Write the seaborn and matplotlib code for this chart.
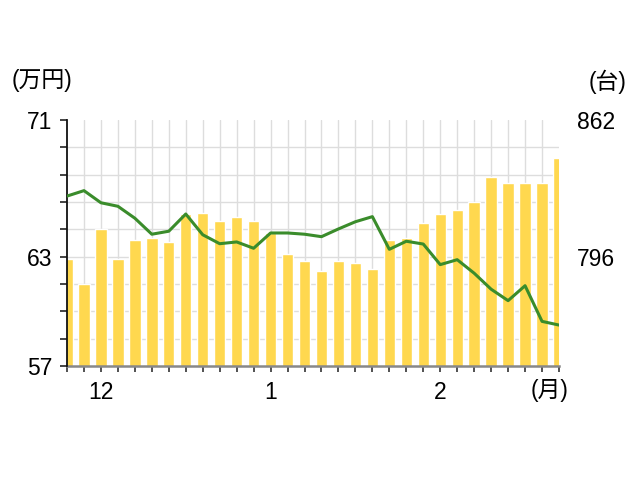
import numpy as np
import pandas as pd
import seaborn as sns
import matplotlib.pyplot as plt

# Data (30 periods, Dec - Feb)
units = [794.8, 782.7, 809.1, 794.8, 804.1, 805.1, 803.1, 816.4, 817.2, 813.3,
         815.2, 813.3, 807.2, 797.0, 793.8, 789.0, 793.8, 793.0, 789.9, 804.1,
         805.1, 812.2, 816.4, 818.5, 822.3, 834.4, 831.5, 831.5, 831.5, 843.6]
price = [66.67, 66.98, 66.29, 66.09, 65.41, 64.50, 64.67, 65.65, 64.47, 63.96,
         64.06, 63.70, 64.57, 64.57, 64.50, 64.36, 64.80, 65.21, 65.50, 63.64,
         64.10, 63.94, 62.77, 63.05, 62.28, 61.37, 60.72, 61.57, 59.54, 59.33]
month_ticks = [2, 12, 22]
month_labels = ["12", "1", "2"]
left_labels = {0: "57", 4: "63", 9: "71"}
right_labels = {4: "796", 9: "862"}

df = pd.DataFrame({"idx": np.arange(len(units)), "units": units, "price": price})

sns.set_style("white")
plt.rcParams["font.family"] = ["Liberation Sans", "Noto Sans CJK JP", "DejaVu Sans"]
plt.rcParams["text.color"] = "black"
plt.rcParams["xtick.color"] = "black"
plt.rcParams["ytick.color"] = "black"

bar_color = "#FFD84F"
line_color = "#3A8C2B"
grid_color = "#DDDDDD"

fig = plt.figure(figsize=(6.4, 4.8), dpi=100)
ax_bar = fig.add_axes([67 / 640, 114 / 480, 492 / 640, 246 / 480])
ax_line = ax_bar.twinx()

# bars on the (right) unit axis
sns.barplot(data=df, x="idx", y="units", color=bar_color, saturation=1,
            width=0.67, native_scale=True, ax=ax_bar, zorder=2)
# line on the (left) price axis
sns.lineplot(data=df, x="idx", y="price", color=line_color, linewidth=2.2,
             ax=ax_line, zorder=3)

n = len(units)
ax_bar.set_xlim(0, n - 1)
ax_bar.set_ylim(743, 862)
ax_line.set_ylim(57, 71)

# gridlines on the bar axis, behind bars
ax_bar.set_xticks(np.arange(n))
ax_bar.set_xticklabels([month_labels[month_ticks.index(i)] if i in month_ticks else ""
                        for i in range(n)], fontsize=16.5)
r_ticks = np.linspace(743, 862, 10)
ax_bar.set_yticks(r_ticks)
ax_bar.set_yticklabels([right_labels.get(i, "") for i in range(10)], fontsize=16.5)
ax_bar.grid(True, color=grid_color, linewidth=1.0, zorder=0)
ax_bar.set_axisbelow(True)
ax_bar.yaxis.get_gridlines()[-1].set_visible(False)
ax_bar.yaxis.get_gridlines()[0].set_visible(False)
ax_bar.xaxis.get_gridlines()[0].set_visible(False)
ax_bar.xaxis.get_gridlines()[-1].set_visible(False)
ax_bar.yaxis.tick_right()
ax_bar.tick_params(axis="y", length=0, pad=13)
ax_bar.tick_params(axis="x", length=4.5, width=1.2, color="#333333", pad=6,
                   direction="out", bottom=True)
ax_bar.set_xlabel("")
ax_bar.set_ylabel("")

ax_line.yaxis.tick_left()
ax_line.set_yticks(np.linspace(57, 71, 10))
ax_line.set_yticklabels([left_labels.get(i, "") for i in range(10)], fontsize=16.5)
ax_line.tick_params(axis="y", length=5, width=1.2, color="#222222", pad=5.5,
                    left=True, right=False, labelleft=True, labelright=False)
ax_line.set_xlabel("")
ax_line.set_ylabel("")

for a in (ax_bar, ax_line):
    for s in ("top", "right", "left", "bottom"):
        a.spines[s].set_visible(False)
ax_line.spines["left"].set_visible(True)
ax_line.spines["left"].set_color("#111111")
ax_line.spines["left"].set_linewidth(1.3)
ax_bar.spines["bottom"].set_visible(True)
ax_bar.spines["bottom"].set_color("#888888")
ax_bar.spines["bottom"].set_linewidth(1.8)

fig.text(42 / 640, 1 - 80 / 480, "(万円)", fontsize=16.5, ha="center", va="center")
fig.text(608 / 640, 1 - 82 / 480, "(台)", fontsize=16.5, ha="center", va="center")
fig.text(550 / 640, 1 - 390 / 480, "(月)", fontsize=16.5, ha="center", va="center")

fig.savefig("out.png", dpi=100)
